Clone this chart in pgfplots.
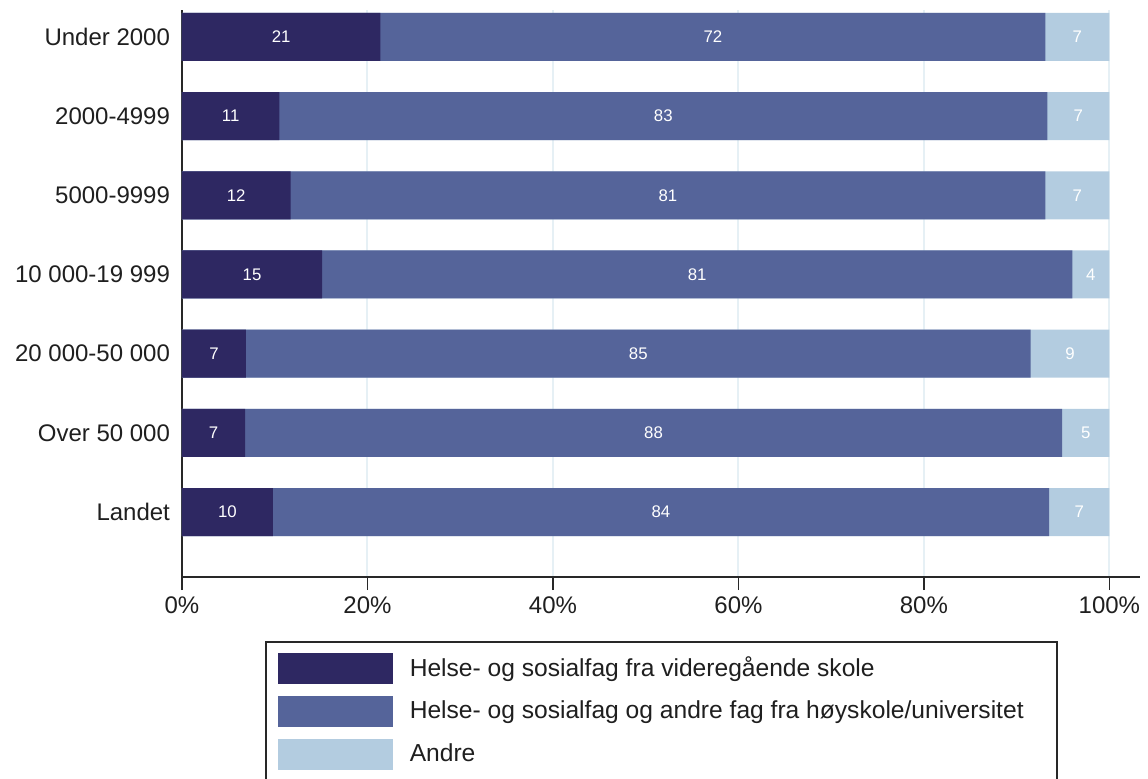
\documentclass[border=0pt]{standalone}
\usepackage{pgfplots}
\pgfplotsset{compat=1.18}
\usepackage{pgfplotstable}
\usepackage{fontspec}
\setmainfont{Liberation Sans}
\definecolor{cdark}{RGB}{46,40,98}
\definecolor{cmid}{RGB}{85,100,154}
\definecolor{clight}{RGB}{179,204,224}
\definecolor{gridc}{RGB}{230,240,245}
\definecolor{axisc}{RGB}{40,40,40}
\pgfplotstableread{
y a b c la lb lc
6 21.4 71.7 6.9 21 72 7
5 10.5 82.8 6.7 11 83 7
4 11.7 81.4 6.9 12 81 7
3 15.1 80.9 4.0 15 81 4
2 6.9 84.6 8.5 7 85 9
1 6.8 88.1 5.1 7 88 5
0 9.8 83.7 6.5 10 84 7
}\datatable
\begin{document}
\begin{tikzpicture}
\path[use as bounding box] (-91pt,-100.5pt) rectangle (483pt,288.5pt);
\begin{axis}[
  at={(0,0)}, anchor=south west,
  scale only axis, width=479pt, height=283.5pt,
  xmin=0, xmax=103.3, ymin=-0.82, ymax=6.34,
  axis x line*=bottom, axis y line*=left,
  axis line style={-, line width=0.8pt, color=axisc},
  xtick={0,20,...,100},
  xticklabel={\pgfmathprintnumber{\tick}\%},
  /pgf/number format/assume math mode=true,
  ytick={0,...,6},
  yticklabels={Landet, Over 50 000, 20 000-50 000, 10 000-19 999, 5000-9999, 2000-4999, Under 2000},
  tick align=outside,
  major tick length=6.5pt,
  xtick style={line width=0.8pt, color=axisc},
  ytick style={draw=none},
  tick label style={font=\fontsize{12}{14}\selectfont, text=black!88},
  y tick label style={xshift=4pt},
  xmajorgrids, grid style={color=gridc, line width=1pt},
  legend cell align=left,
  legend image code/.code={\fill[#1] (0pt,-7.75pt) rectangle (57.5pt,7.75pt);},
  legend style={at={(0.0866,-0.1128)}, anchor=north west,
    draw=axisc, line width=0.8pt, inner xsep=6pt, inner ysep=5.5pt,
    font=\fontsize{12.3}{14}\selectfont, text=black!88,
    row sep=6pt, column sep=6.5pt},
]
\addplot[xbar, bar width=24pt, fill=clight, draw=none, forget plot] table[x expr=\thisrow{a}+\thisrow{b}+\thisrow{c}, y=y] {\datatable};
\addplot[xbar, bar width=24pt, fill=cmid, draw=none, forget plot] table[x expr=\thisrow{a}+\thisrow{b}, y=y] {\datatable};
\addplot[xbar, bar width=24pt, fill=cdark, draw=none, forget plot] table[x=a, y=y] {\datatable};
\addplot[only marks, mark=none, forget plot, nodes near coords, point meta=explicit symbolic,
  nodes near coords style={anchor=center, text=white, font=\fontsize{8.4}{9}\selectfont}]
  table[x expr=\thisrow{a}/2, y=y, meta=la] {\datatable};
\addplot[only marks, mark=none, forget plot, nodes near coords, point meta=explicit symbolic,
  nodes near coords style={anchor=center, text=white, font=\fontsize{8.4}{9}\selectfont}]
  table[x expr=\thisrow{a}+\thisrow{b}/2, y=y, meta=lb] {\datatable};
\addplot[only marks, mark=none, forget plot, nodes near coords, point meta=explicit symbolic,
  nodes near coords style={anchor=center, text=white, font=\fontsize{8.4}{9}\selectfont}]
  table[x expr=\thisrow{a}+\thisrow{b}+\thisrow{c}/2, y=y, meta=lc] {\datatable};
\addlegendimage{fill=cdark, draw=none}
\addlegendentry{Helse- og sosialfag fra videregående skole}
\addlegendimage{fill=cmid, draw=none}
\addlegendentry{Helse- og sosialfag og andre fag fra høyskole/universitet\hspace*{8.5pt}}
\addlegendimage{fill=clight, draw=none}
\addlegendentry{Andre}
\end{axis}
\end{tikzpicture}
\end{document}
